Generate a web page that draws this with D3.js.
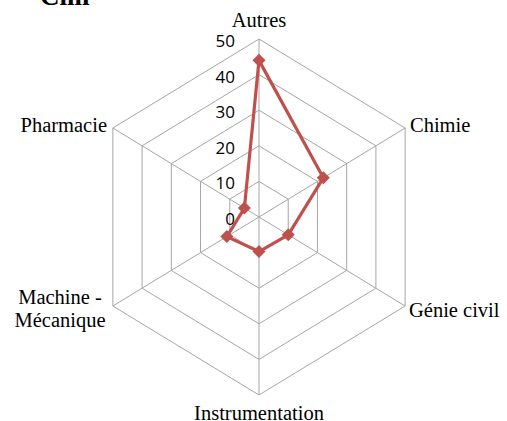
<!DOCTYPE html>
<html>
<head>
<meta charset="utf-8">
<script src="https://cdn.jsdelivr.net/npm/d3@7"></script>
<style>
  body { margin: 0; background: #fff; }
  svg { display: block; }
</style>
</head>
<body>
<div id="chart"></div>
<script>
// categories clockwise from the top
var categories = ["Autres", "Chimie", "Génie civil", "Instrumentation", "Machine -\nMécanique", "Pharmacie"];
var values = [44, 22, 10, 9.7, 11, 5];
var ticks = [0, 10, 20, 30, 40, 50];

var width = 507, height = 421;
var cx = 259, cy = 217, R = 178, squash = 0.948;

var svg = d3.select("#chart").append("svg")
    .attr("width", width)
    .attr("height", height);

var r = d3.scaleLinear().domain([0, 50]).range([0, R]);
var angle = d3.scalePoint().domain(d3.range(categories.length + 1)).range([0, 2 * Math.PI]);

function px(i, v) { return cx + Math.sin(angle(i % categories.length)) * r(v) * squash; }
function py(i, v) { return cy - Math.cos(angle(i % categories.length)) * r(v); }

// title, mostly cut off at the top (as in the original)
svg.append("text")
    .attr("x", 40).attr("y", 5)
    .style("font-family", "Liberation Serif")
    .style("font-weight", "bold")
    .style("font-size", "27px")
    .text("Cilli");

// grid rings
var grid = svg.append("g").attr("fill", "none").attr("stroke", "#a6a6a6").attr("stroke-width", 1);
ticks.slice(1).forEach(function(t) {
    grid.append("path")
        .attr("d", d3.line()(categories.map(function(c, i) { return [px(i, t), py(i, t)]; })) + "Z");
});
categories.forEach(function(c, i) {
    grid.append("line")
        .attr("x1", cx).attr("y1", cy)
        .attr("x2", px(i, 50)).attr("y2", py(i, 50));
});

// tick labels on the top axis
svg.append("g").selectAll("text")
    .data(ticks)
    .join("text")
    .attr("x", cx - 24)
    .attr("y", function(d) { return cy - r(d) + 2; })
    .attr("dy", "0.35em")
    .attr("text-anchor", "end")
    .style("font-family", "Open Sans")
    .style("font-size", "17px")
    .attr("fill", "#000")
    .text(function(d) { return d; });

// category labels
var labelPos = [
    {x: cx, y: 27, anchor: "middle"},
    {x: 410, y: 132, anchor: "start"},
    {x: 409, y: 317, anchor: "start"},
    {x: cx, y: 420, anchor: "middle"},
    {x: 60, y: 304, anchor: "middle"},
    {x: 107, y: 132, anchor: "end"}
];
categories.forEach(function(c, i) {
    var t = svg.append("text")
        .attr("x", labelPos[i].x)
        .attr("y", labelPos[i].y)
        .attr("text-anchor", labelPos[i].anchor)
        .style("font-family", "Liberation Serif")
        .style("font-size", "20.5px");
    c.split("\n").forEach(function(s, k) {
        t.append("tspan").attr("x", labelPos[i].x).attr("dy", k ? 23 : 0).text(s);
    });
});

// series
var color = "#c0504d";
svg.append("path")
    .attr("d", d3.line()(values.map(function(v, i) { return [px(i, v), py(i, v)]; })) + "Z")
    .attr("fill", "none")
    .attr("stroke", color)
    .attr("stroke-width", 3.2)
    .attr("stroke-linejoin", "round");

svg.append("g").selectAll("path")
    .data(values)
    .join("path")
    .attr("d", d3.symbol(d3.symbolSquare, 85))
    .attr("transform", function(v, i) { return "translate(" + px(i, v) + "," + py(i, v) + ") rotate(45)"; })
    .attr("fill", color);
</script>
</body>
</html>
